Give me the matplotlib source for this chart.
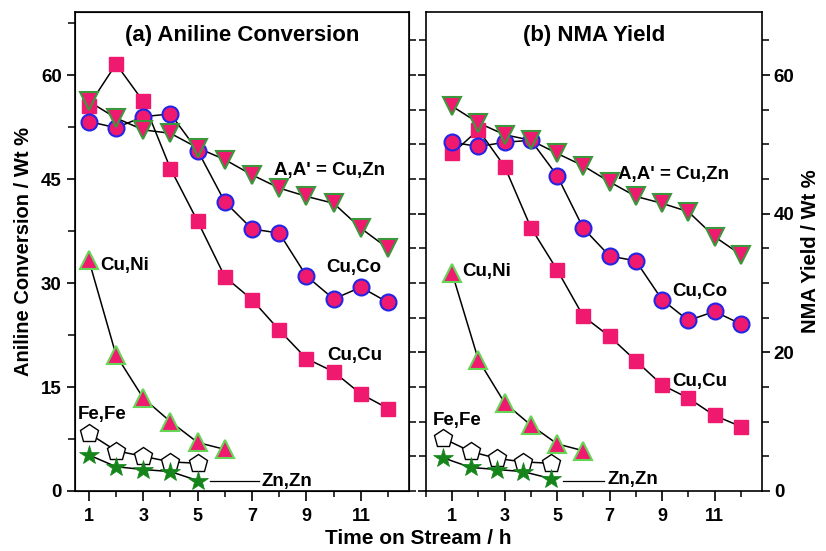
import matplotlib
matplotlib.use("Agg")
import matplotlib.pyplot as plt
from matplotlib.ticker import MultipleLocator, FixedLocator

plt.rcParams['font.family'] = ['Liberation Sans', 'DejaVu Sans']
plt.rcParams['font.weight'] = 'bold'

# ---------------- data ----------------
hours = [1, 2, 3, 4, 5, 6, 7, 8, 9, 10, 11, 12]
hours_short = [1, 2, 3, 4, 5, 6]
hours_fz_a = [1, 2, 3, 4, 5]
hours_fz_b = [0.65, 1.7, 2.7, 3.7, 4.75]

# (a) Aniline conversion
conv_cuzn = [56.2, 53.8, 52.1, 51.6, 49.5, 47.8, 45.6, 43.7, 42.5, 41.5, 37.9, 35.0]
conv_cuco = [53.3, 52.4, 54.0, 54.4, 49.1, 41.7, 37.8, 37.2, 31.0, 27.7, 29.4, 27.2]
conv_cucu = [55.6, 61.6, 56.2, 46.5, 38.9, 30.9, 27.6, 23.2, 19.1, 17.2, 14.0, 11.9]
conv_cuni = [33.3, 19.6, 13.4, 10.0, 7.0, 6.0]
conv_fefe = [8.3, 5.8, 5.0, 4.2, 4.0]
conv_znzn = [5.2, 3.5, 3.1, 2.8, 1.5]

# (b) NMA yield
yld_cuzn = [55.5, 53.1, 51.4, 50.6, 48.7, 46.9, 44.6, 42.5, 41.5, 40.3, 36.7, 34.1]
yld_cuco = [50.3, 49.7, 50.3, 50.6, 45.5, 37.9, 33.9, 33.2, 27.6, 24.6, 25.9, 24.1]
yld_cucu = [48.7, 52.1, 46.8, 38.0, 31.9, 25.2, 22.3, 18.8, 15.3, 13.4, 10.9, 9.3]
yld_cuni = [31.4, 18.9, 12.7, 9.5, 6.8, 5.8]
yld_fefe = [7.6, 5.7, 4.7, 4.2, 4.0]
yld_znzn = [4.8, 3.4, 3.1, 2.8, 1.8]

left_ticks = [0, 15, 30, 45, 60]
right_ticks = [0, 20, 40, 60]
x_tick_labels = [1, 3, 5, 7, 9, 11]

# ---------------- style ----------------
PINK = '#EF1A70'
BLUE = '#2424E6'
LGREEN = '#66D455'
DGREEN = '#3C963C'
SGREEN = '#15841A'
LINE_KW = dict(color='black', lw=1.1, zorder=2)

styles = {
    'cuzn': dict(marker='v', ms=13, mfc=PINK, mec=DGREEN, mew=1.5),
    'cuco': dict(marker='o', ms=11.5, mfc=PINK, mec=BLUE, mew=1.5),
    'cucu': dict(marker='s', ms=10.5, mfc=PINK, mec=PINK, mew=1.0),
    'cuni': dict(marker='^', ms=13, mfc=PINK, mec=LGREEN, mew=1.5),
    'fefe': dict(marker='p', ms=13.5, mfc='white', mec='black', mew=1.0),
    'znzn': dict(marker='*', ms=15, mfc=SGREEN, mec=SGREEN, mew=0.5),
}

fig = plt.figure(figsize=(8.26, 5.51), dpi=100)
axL = fig.add_axes([0.0908, 0.1089, 0.4044, 0.8693])
axR = fig.add_axes([0.5157, 0.1089, 0.4068, 0.8693])

YMAX = 69.1


def draw(ax, x, xs, xfz, d):
    cuzn, cuco, cucu, cuni, fefe, znzn = d
    for xx, yy, key in [(xfz, fefe, 'fefe'), (xfz, znzn, 'znzn'),
                        (xs, cuni, 'cuni'), (x, cucu, 'cucu'),
                        (x, cuco, 'cuco'), (x, cuzn, 'cuzn')]:
        ax.plot(xx, yy, **LINE_KW)
        ax.plot(xx, yy, ls='none', zorder=3, **styles[key])


draw(axL, hours, hours_short, hours_fz_a,
     (conv_cuzn, conv_cuco, conv_cucu, conv_cuni, conv_fefe, conv_znzn))
draw(axR, hours, hours_short, hours_fz_b,
     (yld_cuzn, yld_cuco, yld_cucu, yld_cuni, yld_fefe, yld_znzn))

axL.set_xlim(0.49, 12.77)
axR.set_xlim(0.0, 12.81)
for ax in (axL, axR):
    ax.set_ylim(0, YMAX)
    ax.xaxis.set_major_locator(FixedLocator(x_tick_labels))
    ax.xaxis.set_minor_locator(MultipleLocator(1))
    ax.tick_params(axis='x', which='major', direction='out', length=7, width=1.2,
                   labelsize=13, pad=5, top=False)
    ax.tick_params(axis='x', which='minor', direction='out', length=4, width=1.1, top=False)
    for s in ax.spines.values():
        s.set_linewidth(1.2)

# left panel y axis
axL.yaxis.set_major_locator(FixedLocator(left_ticks))
axL.yaxis.set_minor_locator(MultipleLocator(7.5))
axL.tick_params(axis='y', which='major', direction='out', length=6, width=1.2,
                labelsize=13.5, right=False)
axL.tick_params(axis='y', which='minor', direction='out', length=5, width=1.1, right=False)
axL.set_ylabel('Aniline Conversion / Wt %', fontsize=14.5, fontweight='bold', labelpad=6)

twL = axL.twinx()
twL.set_ylim(0, YMAX)
twL.yaxis.set_major_locator(MultipleLocator(5))
twL.tick_params(axis='y', direction='out', length=5, width=1.1, labelright=False)

# right panel y axis
axR.yaxis.tick_right()
axR.yaxis.set_label_position('right')
axR.yaxis.set_major_locator(FixedLocator(right_ticks))
axR.yaxis.set_minor_locator(MultipleLocator(5))
axR.tick_params(axis='y', which='both', left=True, right=True, labelleft=False,
                labelright=True, direction='out')
axR.tick_params(axis='y', which='major', length=6, width=1.2, labelsize=13.5, pad=2.5)
axR.tick_params(axis='y', which='minor', length=5, width=1.1)
axR.set_ylabel('NMA Yield / Wt %', fontsize=14.5, fontweight='bold', labelpad=5)

fig.text(0.506, 7 / 551, 'Time on Stream / h', fontsize=15, fontweight='bold',
         ha='center', va='baseline')

# titles
axL.text(0.5, 0.951, '(a) Aniline Conversion', transform=axL.transAxes,
         ha='center', va='center', fontsize=16, fontweight='bold')
axR.text(0.5, 0.951, '(b) NMA Yield', transform=axR.transAxes,
         ha='center', va='center', fontsize=16, fontweight='bold')

AK = dict(fontsize=13.5, fontweight='bold', va='center', ha='left', zorder=5)
# panel (a) labels
axL.text(7.82, 46.3, "A,A' = Cu,Zn", **AK)
axL.text(9.72, 32.3, 'Cu,Co', **AK)
axL.text(9.78, 19.5, 'Cu,Cu', **AK)
axL.text(1.40, 32.6, 'Cu,Ni', **AK)
axL.text(0.58, 11.0, 'Fe,Fe', **AK)
axL.text(7.35, 1.4, 'Zn,Zn', **AK)
axL.plot([5.45, 7.25], [1.5, 1.5], color='black', lw=0.9, zorder=2)
# panel (b) labels
axR.text(7.32, 45.6, "A,A' = Cu,Zn", **AK)
axR.text(9.40, 28.8, 'Cu,Co', **AK)
axR.text(9.40, 15.8, 'Cu,Cu', **AK)
axR.text(1.40, 31.6, 'Cu,Ni', **AK)
axR.text(0.27, 10.1, 'Fe,Fe', **AK)
axR.text(6.92, 1.7, 'Zn,Zn', **AK)
axR.plot([5.22, 6.8], [1.5, 1.5], color='black', lw=0.9, zorder=2)

fig.savefig('out.png', dpi=100)
